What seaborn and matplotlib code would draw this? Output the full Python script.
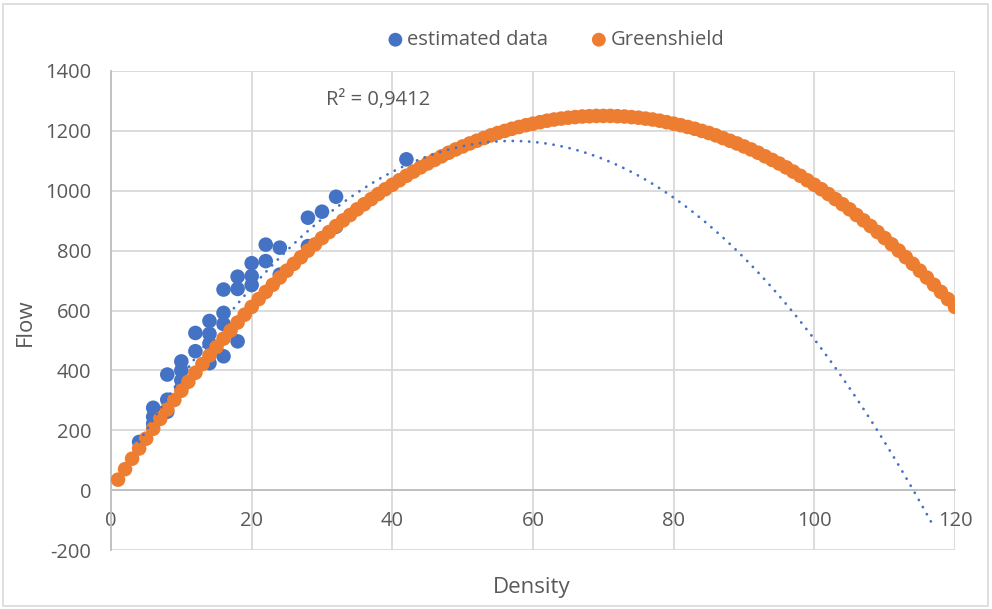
import numpy as np
import pandas as pd
import matplotlib
matplotlib.use("Agg")
import matplotlib.pyplot as plt
from matplotlib.patches import Rectangle
import seaborn as sns

# Observed density / flow pairs
est_density = [4, 6, 6, 6, 8, 8, 8, 10, 10, 10, 10, 12, 12, 14, 14, 14, 14,
               16, 16, 16, 16, 18, 18, 18, 20, 20, 20, 22, 22, 24, 24, 28, 28,
               30, 32, 32, 42]
est_flow = [161, 222, 245, 275, 262, 302, 386, 340, 367, 400, 430, 464, 525,
            424, 490, 522, 565, 447, 555, 592, 670, 497, 672, 713, 685, 715,
            758, 765, 820, 720, 810, 815, 910, 930, 880, 980, 1105]

# Greenshield model flow for density 1..120
gs_density = list(range(1, 121))
gs_flow = [35, 70, 105, 139, 172, 205, 238, 269, 301, 332,
           362, 392, 421, 450, 478, 506, 533, 560, 586, 612,
           638, 662, 686, 710, 733, 756, 778, 800, 821, 842,
           862, 882, 901, 919, 938, 955, 972, 989, 1005, 1020,
           1035, 1050, 1064, 1078, 1091, 1103, 1115, 1127, 1138, 1148,
           1158, 1167, 1176, 1185, 1193, 1200, 1207, 1213, 1219, 1224,
           1229, 1234, 1238, 1241, 1244, 1246, 1248, 1249, 1250, 1250,
           1250, 1249, 1248, 1246, 1244, 1241, 1238, 1234, 1229, 1224,
           1219, 1213, 1207, 1200, 1193, 1185, 1176, 1167, 1158, 1148,
           1138, 1127, 1115, 1103, 1091, 1078, 1064, 1050, 1035, 1020,
           1005, 989, 972, 955, 938, 919, 901, 882, 862, 842,
           821, 800, 778, 756, 733, 710, 686, 662, 638, 612]

# Second-order polynomial trendline (a*k^2 + b*k + c) and its span
trend_coef = [-0.358, 40.8, 4.0]
trend_range = [4, 117]
r2_label = "R² = 0,9412"

x_ticks = [0, 20, 40, 60, 80, 100, 120]
y_ticks = [-200, 0, 200, 400, 600, 800, 1000, 1200, 1400]

BLUE = "#4472C4"
ORANGE = "#ED7D31"
TEXT = "#595959"
GRID = "#D9D9D9"
FONT = ["Open Sans", "DejaVu Sans"]

sns.set_theme(style="white")
plt.rcParams["font.family"] = FONT
plt.rcParams["axes.unicode_minus"] = False

est = pd.DataFrame({"Density": est_density, "Flow": est_flow})
gs = pd.DataFrame({"Density": gs_density, "Flow": gs_flow})
kx = np.linspace(trend_range[0], trend_range[1], 300)
trend = pd.DataFrame({"Density": kx, "Flow": np.polyval(trend_coef, kx)})

fig = plt.figure(figsize=(9.92, 6.09), dpi=100)
ax = fig.add_axes([111 / 992, 59 / 609, 844 / 992, 479 / 609])

ax.set_xlim(0, 120)
ax.set_ylim(-200, 1400)
ax.set_xticks(x_ticks)
ax.set_yticks(y_ticks)
ax.grid(True, color=GRID, linewidth=1.3, zorder=0)
ax.set_axisbelow(True)

sns.scatterplot(data=est, x="Density", y="Flow", ax=ax, color=BLUE, s=110,
                edgecolor="none", label="estimated data", zorder=3)
sns.scatterplot(data=gs, x="Density", y="Flow", ax=ax, color=ORANGE, s=110,
                edgecolor="none", label="Greenshield", zorder=4)
sns.lineplot(data=trend, x="Density", y="Flow", ax=ax, color=BLUE,
             linewidth=2.0, linestyle=(0, (0.05, 2.9)),
             dash_capstyle="round", zorder=5, legend=False)

ax.text(30.6, 1302, r2_label, fontsize=14.5, color=TEXT,
        va="center", ha="left")

# Axes styling
for side in ["top", "right"]:
    ax.spines[side].set_visible(False)
ax.spines["left"].set_color("#BFBFBF")
ax.spines["left"].set_linewidth(1.3)
ax.spines["bottom"].set_position(("data", 0))
ax.spines["bottom"].set_color("#BFBFBF")
ax.spines["bottom"].set_linewidth(1.3)
ax.tick_params(axis="both", length=0, labelsize=14.5, labelcolor=TEXT)
ax.tick_params(axis="y", pad=14)
ax.tick_params(axis="x", pad=15)
for lbl in ax.get_xticklabels():
    lbl.set_zorder(6)

ax.set_xlabel("")
ax.set_ylabel("")
fig.text(532 / 992, 1 - 587 / 609, "Density", fontsize=16, color=TEXT,
         ha="center", va="center")
fig.text(25 / 992, 1 - 322 / 609, "Flow", fontsize=16, color=TEXT,
         ha="center", va="center", rotation=90)

leg = ax.legend(loc="center", bbox_to_anchor=(555 / 992, 1 - 40 / 609),
                bbox_transform=fig.transFigure, ncol=2, frameon=False,
                fontsize=14.5, handlelength=1.0, handletextpad=0.1,
                columnspacing=2.0, markerscale=0.95, borderpad=0.0)
for t in leg.get_texts():
    t.set_color(TEXT)

fig.patches.append(Rectangle((3 / 992, 3 / 609), 985 / 992, 602 / 609,
                             transform=fig.transFigure, fill=False,
                             edgecolor="#D9D9D9", linewidth=1.2))

fig.savefig("out.png", dpi=100)
